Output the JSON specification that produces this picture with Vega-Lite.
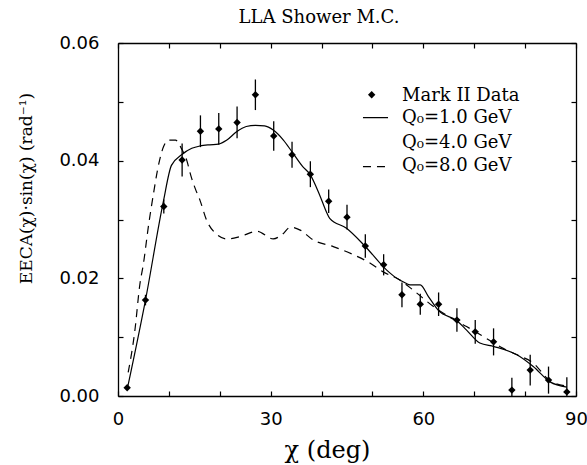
{
  "$schema": "https://vega.github.io/schema/vega-lite/v6.json",
  "width": 458,
  "height": 353,
  "autosize": "none",
  "padding": {"left": 118, "top": 43, "right": 11, "bottom": 69},
  "background": "white",
  "title": {"text": "LLA Shower M.C.", "font": "DejaVu Serif", "fontSize": 18, "fontWeight": "normal", "color": "black", "anchor": "middle", "dx": -28, "offset": 7},
  "config": {"view": {"stroke": null}},
  "datasets": {
    "points": [
      {"deg": 1.8, "val": 0.0014, "lo": 0.0010, "hi": 0.0018},
      {"deg": 5.4, "val": 0.0163, "lo": 0.0154, "hi": 0.0172},
      {"deg": 9.0, "val": 0.0322, "lo": 0.0310, "hi": 0.0334},
      {"deg": 12.6, "val": 0.0401, "lo": 0.0373, "hi": 0.0429},
      {"deg": 16.2, "val": 0.0450, "lo": 0.0423, "hi": 0.0477},
      {"deg": 19.8, "val": 0.0454, "lo": 0.0427, "hi": 0.0481},
      {"deg": 23.4, "val": 0.0465, "lo": 0.0438, "hi": 0.0492},
      {"deg": 27.0, "val": 0.0512, "lo": 0.0486, "hi": 0.0538},
      {"deg": 30.6, "val": 0.0442, "lo": 0.0417, "hi": 0.0467},
      {"deg": 34.2, "val": 0.0410, "lo": 0.0388, "hi": 0.0432},
      {"deg": 37.8, "val": 0.0377, "lo": 0.0355, "hi": 0.0399},
      {"deg": 41.4, "val": 0.0331, "lo": 0.0311, "hi": 0.0351},
      {"deg": 45.0, "val": 0.0304, "lo": 0.0283, "hi": 0.0325},
      {"deg": 48.6, "val": 0.0255, "lo": 0.0235, "hi": 0.0275},
      {"deg": 52.2, "val": 0.0223, "lo": 0.0205, "hi": 0.0241},
      {"deg": 55.8, "val": 0.0172, "lo": 0.0151, "hi": 0.0193},
      {"deg": 59.4, "val": 0.0156, "lo": 0.0138, "hi": 0.0174},
      {"deg": 63.0, "val": 0.0156, "lo": 0.0136, "hi": 0.0176},
      {"deg": 66.6, "val": 0.0129, "lo": 0.0109, "hi": 0.0149},
      {"deg": 70.2, "val": 0.0109, "lo": 0.0089, "hi": 0.0129},
      {"deg": 73.8, "val": 0.0092, "lo": 0.0069, "hi": 0.0115},
      {"deg": 77.4, "val": 0.0010, "lo": 0.0000, "hi": 0.0031},
      {"deg": 81.0, "val": 0.0044, "lo": 0.0018, "hi": 0.0070},
      {"deg": 84.6, "val": 0.0027, "lo": 0.0004, "hi": 0.0050},
      {"deg": 88.2, "val": 0.0007, "lo": 0.0000, "hi": 0.0032}
    ],
    "solid": [
      {"deg": 1.9, "val": 0.0015}, {"deg": 5.4, "val": 0.0163}, {"deg": 8.9, "val": 0.0330},
      {"deg": 10.5, "val": 0.0392}, {"deg": 12.5, "val": 0.0410}, {"deg": 14.5, "val": 0.0421},
      {"deg": 16.1, "val": 0.0425}, {"deg": 18.0, "val": 0.0427}, {"deg": 19.7, "val": 0.0428},
      {"deg": 21.4, "val": 0.0435}, {"deg": 23.3, "val": 0.0449}, {"deg": 25.2, "val": 0.0458},
      {"deg": 27.0, "val": 0.0460}, {"deg": 28.8, "val": 0.0459}, {"deg": 30.5, "val": 0.0452},
      {"deg": 32.5, "val": 0.0435}, {"deg": 34.2, "val": 0.0415}, {"deg": 36.3, "val": 0.0390},
      {"deg": 37.7, "val": 0.0377}, {"deg": 39.7, "val": 0.0340}, {"deg": 41.0, "val": 0.0312},
      {"deg": 41.6, "val": 0.0302}, {"deg": 44.9, "val": 0.0285}, {"deg": 48.5, "val": 0.0255},
      {"deg": 52.8, "val": 0.0214}, {"deg": 54.8, "val": 0.0200}, {"deg": 56.5, "val": 0.0192},
      {"deg": 57.4, "val": 0.0189}, {"deg": 59.4, "val": 0.0189}, {"deg": 61.0, "val": 0.0169},
      {"deg": 63.0, "val": 0.0145}, {"deg": 66.6, "val": 0.0128}, {"deg": 68.5, "val": 0.0112},
      {"deg": 71.1, "val": 0.0090}, {"deg": 73.9, "val": 0.0084}, {"deg": 78.4, "val": 0.0070},
      {"deg": 81.6, "val": 0.0050}, {"deg": 84.9, "val": 0.0024}, {"deg": 88.2, "val": 0.0015}
    ],
    "dashed": [
      {"deg": 2.0, "val": 0.0040}, {"deg": 3.3, "val": 0.0110}, {"deg": 4.3, "val": 0.0190},
      {"deg": 5.0, "val": 0.0225}, {"deg": 6.0, "val": 0.0290}, {"deg": 6.9, "val": 0.0340},
      {"deg": 7.9, "val": 0.0390}, {"deg": 9.0, "val": 0.0425}, {"deg": 10.0, "val": 0.0435},
      {"deg": 11.3, "val": 0.0435}, {"deg": 12.5, "val": 0.0420}, {"deg": 13.5, "val": 0.0401},
      {"deg": 14.3, "val": 0.0375}, {"deg": 15.2, "val": 0.0352}, {"deg": 16.1, "val": 0.0333},
      {"deg": 17.4, "val": 0.0299}, {"deg": 19.1, "val": 0.0277}, {"deg": 21.4, "val": 0.0267},
      {"deg": 24.0, "val": 0.0271}, {"deg": 27.3, "val": 0.0280}, {"deg": 30.5, "val": 0.0267},
      {"deg": 32.2, "val": 0.0274}, {"deg": 33.9, "val": 0.0287}, {"deg": 35.8, "val": 0.0282},
      {"deg": 38.4, "val": 0.0265}, {"deg": 42.3, "val": 0.0254}, {"deg": 46.3, "val": 0.0240},
      {"deg": 49.5, "val": 0.0226}, {"deg": 52.1, "val": 0.0211}, {"deg": 55.4, "val": 0.0197},
      {"deg": 58.0, "val": 0.0180}, {"deg": 62.0, "val": 0.0152}, {"deg": 65.0, "val": 0.0135},
      {"deg": 68.5, "val": 0.0118}, {"deg": 71.8, "val": 0.0101}, {"deg": 75.7, "val": 0.0081},
      {"deg": 78.4, "val": 0.0070}, {"deg": 81.6, "val": 0.0056}, {"deg": 85.0, "val": 0.0025},
      {"deg": 88.2, "val": 0.0017}
    ],
    "legendMark": [{"deg": 49.85, "val": 0.0512}],
    "legendLines": [
      {"deg": 48.14, "deg2": 53.06, "val": 0.0473, "style": "solid"},
      {"deg": 48.14, "deg2": 53.45, "val": 0.0390, "style": "dashed"}
    ],
    "legendText": [
      {"deg": 55.81, "val": 0.0502, "label": "Mark II Data"},
      {"deg": 55.81, "val": 0.04635, "label": "Q₀=1.0 GeV"},
      {"deg": 55.81, "val": 0.0422, "label": "Q₀=4.0 GeV"},
      {"deg": 55.81, "val": 0.03824, "label": "Q₀=8.0 GeV"}
    ]
  },
  "resolve": {"axis": {"x": "independent", "y": "independent"}},
  "layer": [
    {
      "data": {"name": "solid"},
      "mark": {"type": "line", "color": "black", "strokeWidth": 1.2, "interpolate": "monotone"},
      "encoding": {
        "x": {"field": "deg", "type": "quantitative", "scale": {"domain": [0, 90], "nice": false, "zero": false},
          "axis": {"orient": "bottom", "values": [0, 10, 20, 30, 40, 50, 60, 70, 80, 90],
            "labelExpr": "datum.value % 30 === 0 ? datum.label : ''",
            "tickSize": -5, "labelPadding": 19, "labelFlush": false, "labelOverlap": false,
            "labelFont": "DejaVu Sans", "labelFontSize": 18, "labelColor": "black",
            "tickColor": "black", "tickWidth": 1.2, "domainColor": "black", "domainWidth": 1.3, "grid": false,
            "title": "χ (deg)", "titleFont": "DejaVu Serif", "titleFontSize": 24, "titleFontWeight": "normal", "titleColor": "black",
            "titleX": 209, "titleY": 61, "titleBaseline": "alphabetic", "titleAlign": "center",
            "encode": {"ticks": {"update": {"y2": {"signal": "datum.value % 30 === 0 ? -15 : -5"}}}}}},
        "y": {"field": "val", "type": "quantitative", "scale": {"domain": [0, 0.06], "nice": false, "zero": false},
          "axis": {"orient": "left", "values": [0, 0.01, 0.02, 0.03, 0.04, 0.05, 0.06], "format": ".2f",
            "labelExpr": "round(datum.value * 100) % 2 === 0 ? datum.label : ''",
            "tickSize": -5, "labelPadding": 24, "labelOverlap": false, "labelFlush": false,
            "labelFont": "DejaVu Sans", "labelFontSize": 18, "labelColor": "black",
            "tickColor": "black", "tickWidth": 1.2, "domainColor": "black", "domainWidth": 1.3, "grid": false,
            "title": "EECA(χ)·sin(χ) (rad⁻¹)", "titleFont": "DejaVu Serif", "titleFontSize": 17, "titleFontWeight": "normal", "titleColor": "black",
            "titleX": -92, "titleY": 145, "titleAngle": -90, "titleAlign": "center", "titleBaseline": "middle",
            "encode": {"ticks": {"update": {"x2": {"signal": "round(datum.value * 100) % 2 === 0 ? 15 : 5"}}}}}}
      }
    },
    {
      "data": {"name": "dashed"},
      "mark": {"type": "line", "color": "black", "strokeWidth": 1.2, "strokeDash": [8, 6], "interpolate": "monotone"},
      "encoding": {
        "x": {"field": "deg", "type": "quantitative", "axis": null},
        "y": {"field": "val", "type": "quantitative", "axis": null}
      }
    },
    {
      "data": {"name": "points"},
      "mark": {"type": "rule", "color": "black", "strokeWidth": 1.3},
      "encoding": {
        "x": {"field": "deg", "type": "quantitative", "axis": null},
        "y": {"field": "lo", "type": "quantitative", "axis": null},
        "y2": {"field": "hi"}
      }
    },
    {
      "data": {"name": "points"},
      "mark": {"type": "point", "shape": "diamond", "filled": true, "color": "black", "size": 55, "opacity": 1},
      "encoding": {
        "x": {"field": "deg", "type": "quantitative",
          "axis": {"orient": "top", "values": [0, 10, 20, 30, 40, 50, 60, 70, 80, 90], "labels": false, "title": null,
            "tickSize": -5, "tickColor": "black", "tickWidth": 1.2, "domainColor": "black", "domainWidth": 1.3, "grid": false,
            "encode": {"ticks": {"update": {"y2": {"signal": "datum.value % 30 === 0 ? 15 : 5"}}}}}},
        "y": {"field": "val", "type": "quantitative",
          "axis": {"orient": "right", "values": [0, 0.01, 0.02, 0.03, 0.04, 0.05, 0.06], "labels": false, "title": null,
            "tickSize": -5, "tickColor": "black", "tickWidth": 1.2, "domainColor": "black", "domainWidth": 1.3, "grid": false,
            "encode": {"ticks": {"update": {"x2": {"signal": "round(datum.value * 100) % 2 === 0 ? -15 : -5"}}}}}}
      }
    },
    {
      "data": {"name": "legendMark"},
      "mark": {"type": "point", "shape": "diamond", "filled": true, "color": "black", "size": 55, "opacity": 1},
      "encoding": {
        "x": {"field": "deg", "type": "quantitative", "axis": null},
        "y": {"field": "val", "type": "quantitative", "axis": null}
      }
    },
    {
      "data": {"name": "legendLines"},
      "mark": {"type": "rule", "color": "black", "strokeWidth": 1.2},
      "encoding": {
        "x": {"field": "deg", "type": "quantitative", "axis": null},
        "x2": {"field": "deg2"},
        "y": {"field": "val", "type": "quantitative", "axis": null},
        "strokeDash": {"field": "style", "type": "nominal", "scale": {"domain": ["solid", "dashed"], "range": [[1, 0], [8, 6]]}, "legend": null}
      }
    },
    {
      "data": {"name": "legendText"},
      "mark": {"type": "text", "align": "left", "baseline": "alphabetic", "font": "DejaVu Serif", "fontSize": 18, "color": "black"},
      "encoding": {
        "x": {"field": "deg", "type": "quantitative", "axis": null},
        "y": {"field": "val", "type": "quantitative", "axis": null},
        "text": {"field": "label", "type": "nominal"}
      }
    }
  ]
}
